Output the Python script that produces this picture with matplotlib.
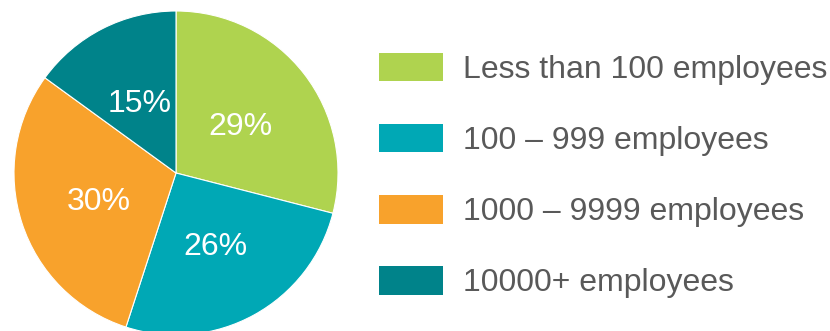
import matplotlib.pyplot as plt

plt.rcParams['font.family'] = ['Liberation Sans', 'DejaVu Sans']

# data
categories = ["Less than 100 employees", "100 \u2013 999 employees",
              "1000 \u2013 9999 employees", "10000+ employees"]
shares = [29, 26, 30, 15]
colors = ["#AFD34F", "#00A8B5", "#F8A22C", "#00838A"]
text_grey = "#595959"

W, H = 830, 331
fig = plt.figure(figsize=(W/100, H/100), dpi=100)

# pie centre (176,173) px, radius 162 px
cx, cy, r = 176, 173, 162
ax = fig.add_axes([(cx - r)/W, (H - cy - r)/H, 2*r/W, 2*r/H])
wedges, texts, autotexts = ax.pie(shares, colors=colors, startangle=90, counterclock=False,
                                  autopct='%d%%', pctdistance=0.5,
                                  wedgeprops=dict(linewidth=0.8, edgecolor='white'),
                                  textprops=dict(color='white', fontsize=23))
for t in autotexts:
    t.set_va('center_baseline')
ax.set_xlim(-1, 1)
ax.set_ylim(-1, 1)
ax.set_aspect('equal')
ax.axis('off')

fs = 23
fs_px = fs * 100 / 72
leg = fig.legend(wedges, categories, loc='center left',
                 bbox_to_anchor=(379/W, (H - 175.5)/H),
                 frameon=False, fontsize=fs, labelcolor=text_grey,
                 handlelength=64/fs_px, handleheight=32/fs_px,
                 handletextpad=20/fs_px, labelspacing=1.22,
                 borderpad=0, borderaxespad=0)
for p in leg.get_patches():
    p.set_linewidth(0)

fig.savefig("out.png", dpi=100)
